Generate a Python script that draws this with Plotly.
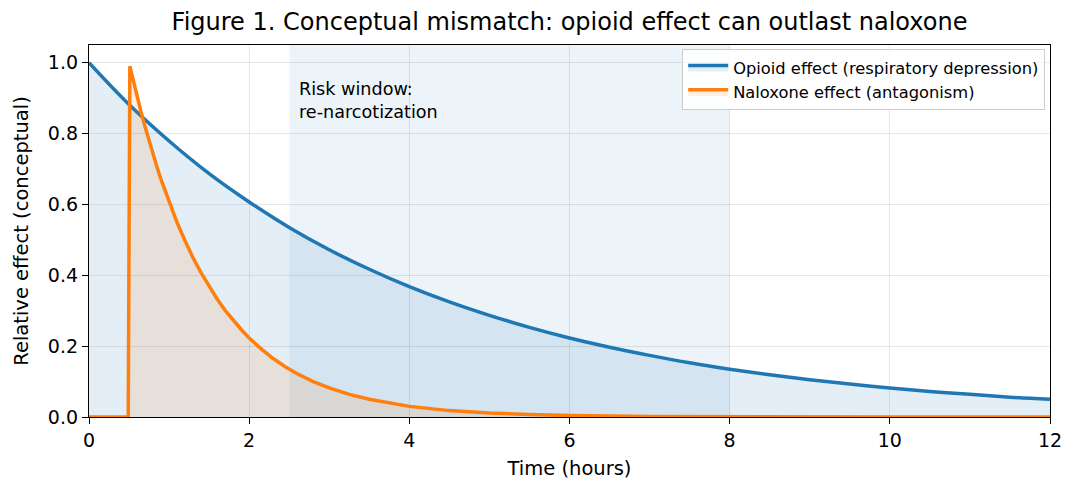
import plotly.graph_objects as go

# opioid effect
opioid_t = [0, 0.5, 1, 1.5, 2, 2.5, 3, 3.5, 4, 4.5, 5, 5.5, 6, 6.5, 7, 7.5, 8,
            8.5, 9, 9.5, 10, 10.5, 11, 11.5, 12]
opioid_y = [1.0, 0.882, 0.779, 0.687, 0.607, 0.535, 0.472, 0.417, 0.368, 0.325,
            0.287, 0.253, 0.223, 0.197, 0.174, 0.153, 0.135, 0.119, 0.105, 0.093,
            0.082, 0.072, 0.064, 0.056, 0.050]

# naloxone effect
nalox_t = [0, 0.49, 0.51, 0.55, 0.6, 0.65, 0.7, 0.75, 0.8, 0.85, 0.9, 0.95, 1.0,
           1.1, 1.2, 1.3, 1.4, 1.5, 1.6, 1.7, 1.8, 1.9, 2.0, 2.15, 2.3, 2.45,
           2.6, 2.8, 3.0, 3.25, 3.5, 3.75, 4.0, 4.5, 5.0, 5.5, 6.0, 7.0, 8.0,
           9.0, 10.0, 12.0]
nalox_y = [0, 0, 0.99, 0.951, 0.905, 0.861, 0.819, 0.779, 0.741, 0.705, 0.670,
           0.638, 0.607, 0.549, 0.497, 0.449, 0.407, 0.368, 0.333, 0.301, 0.273,
           0.247, 0.223, 0.192, 0.165, 0.142, 0.122, 0.100, 0.082, 0.064, 0.050,
           0.039, 0.030, 0.018, 0.011, 0.007, 0.004, 0.0015, 0.0006, 0.0002,
           0.0001, 0]

risk_start, risk_end = 2.5, 8
font = "DejaVu Sans"

fig = go.Figure()
fig.add_trace(go.Scatter(x=opioid_t, y=opioid_y, mode="lines",
                         line=dict(color="#1f77b4", width=3.5, shape="spline"),
                         fill="tozeroy", fillcolor="rgba(31,119,180,0.12)",
                         name="Opioid effect (respiratory depression)"))
fig.add_trace(go.Scatter(x=nalox_t, y=nalox_y, mode="lines",
                         line=dict(color="#ff7f0e", width=3.5),
                         fill="tozeroy", fillcolor="rgba(255,127,14,0.12)",
                         name="Naloxone effect (antagonism)"))

# risk window span
fig.add_vrect(x0=risk_start, x1=risk_end, fillcolor="rgba(31,119,180,0.08)",
              line_width=0, layer="below")
fig.add_annotation(x=2.6, y=0.96, xref="x", yref="y", xanchor="left", yanchor="top",
                   text="Risk window:<br>re-narcotization", showarrow=False, align="left",
                   font=dict(size=17.6, color="black", family=font))

axis_style = dict(showline=True, linecolor="black", linewidth=1.3, mirror=True,
                  ticks="outside", ticklen=6, tickcolor="black", tickwidth=1.3,
                  showgrid=True, gridcolor="rgba(0,0,0,0.09)", gridwidth=1,
                  zeroline=False, automargin=False,
                  tickfont=dict(size=19, color="black", family=font))

# page body has an 8px margin, so shift everything up/left by 8px
fig.update_layout(
    width=1080, height=496,
    margin=dict(l=81, r=38, t=37, b=87),
    plot_bgcolor="white", paper_bgcolor="white",
    title=dict(text="Figure 1. Conceptual mismatch: opioid effect can outlast naloxone",
               x=0.5, xref="paper", y=0.972, yref="container", yanchor="middle",
               font=dict(size=24, color="black", family=font)),
    xaxis=dict(range=[0, 12], dtick=2,
               title=dict(text="Time (hours)", standoff=11,
                          font=dict(size=19.5, color="black", family=font)),
               **axis_style),
    yaxis=dict(range=[0, 1.05], dtick=0.2, tickformat=".1f",
               title=dict(text="Relative effect (conceptual)", standoff=14,
                          font=dict(size=19.5, color="black", family=font)),
               **axis_style),
    legend=dict(x=0.995, y=0.988, xanchor="right", yanchor="top",
                bgcolor="rgba(255,255,255,0.85)", bordercolor="#cccccc", borderwidth=1,
                font=dict(size=16.3, color="black", family=font), tracegroupgap=0,
                itemwidth=40),
    showlegend=True,
)

fig.write_html("out.html")
